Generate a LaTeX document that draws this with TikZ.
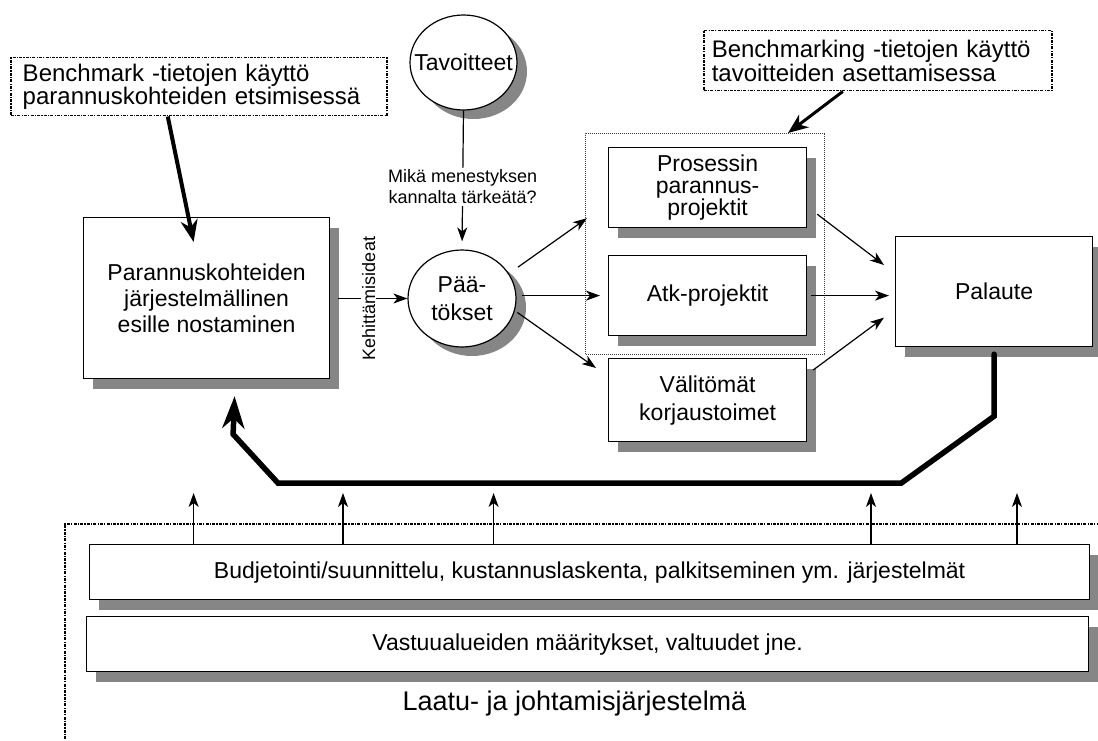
\documentclass[tikz,border=0pt]{standalone}
\usepackage{fontspec}
\setmainfont{Liberation Sans}
\usetikzlibrary{arrows.meta,shapes.geometric,shadows}
\definecolor{shgray}{RGB}{134,134,134}
\newcommand\fsz[2]{\fontsize{#1}{#2}\selectfont}
\tikzset{
  thinarrow/.style={line width=1.2pt, -{Stealth[length=14pt,width=10pt,inset=4pt]}},
  callarrow/.style={line width=4pt, -{Stealth[length=22pt,width=17pt,inset=7pt]}},
  callarrowb/.style={line width=3pt, -{Stealth[length=20pt,width=16pt,inset=6pt]}},
  fat/.style={line width=5.5pt, line cap=round, -{Stealth[length=32pt,width=22pt,inset=10pt]}},
  boxshadow/.style={drop shadow={shadow xshift=9pt, shadow yshift=-10pt, fill=shgray, opacity=1}},
  box/.style={draw, line width=1.2pt, fill=white, rectangle, inner sep=0pt,
    anchor=north west, align=center, boxshadow, font=\fsz{23}{26}},
  blob/.style={draw, line width=1.2pt, fill=white, ellipse, inner sep=0pt,
    drop shadow={shadow xshift=10pt, shadow yshift=-9pt, fill=shgray, opacity=1}},
  dashdot/.style={draw, line width=1.5pt, dash pattern=on 3pt off 1.2pt on 1.2pt off 1.2pt},
  callout/.style={dashdot, rectangle, anchor=north west, inner xsep=12pt, inner ysep=0pt,
    align=left, font=\fsz{24}{23.5}},
  grp/.style={draw=black!75, line width=1pt, densely dotted, rectangle, anchor=north west, inner sep=0pt},
}
\begin{document}
\begin{tikzpicture}[x=1pt,y=-1pt]
\useasboundingbox (0,0) rectangle (1098,741);
\fill[white] (0,0) rectangle (1098,741);
\clip (0,0) rectangle (1098,741);

% callouts
\node[callout, minimum width=376pt, minimum height=58pt, text width=352pt] (cb1) at (10,57)
  {Benchmark -tietojen käyttö\\parannuskohteiden etsimisessä};
\node[callout, minimum width=348pt, minimum height=60pt, text width=332pt, inner xsep=8pt] (cb2) at (703,30)
  {Benchmarking -tietojen käyttö\\tavoitteiden asettamisessa};

% outer frame of the management system
\node[dashdot, rectangle, anchor=north west, minimum width=1100pt, minimum height=300pt] (sys) at (64,523) {};

% dotted group of projects
\node[grp, minimum width=239pt, minimum height=221pt] (gr) at (585,133) {};

% main boxes
\node[box, minimum width=246pt, minimum height=161pt] (lb) at (83,217)
  {Parannuskohteiden\\järjestelmällinen\\esille nostaminen};
\node[box, minimum width=198pt, minimum height=80pt, font=\fsz{23}{22}] (pb) at (608,147)
  {Prosessin\\parannus-\\projektit};
\node[box, minimum width=198pt, minimum height=80pt] (ab) at (608,255) {Atk-projektit};
\node[box, minimum width=198pt, minimum height=83pt, font=\fsz{23}{28}] (vb) at (608,358)
  {Välitömät\\korjaustoimet};
\node[box, minimum width=197pt, minimum height=110pt] (pal) at (895,236) {Palaute};

% ellipses
\node[blob, minimum width=107pt, minimum height=95pt] (tav) at (463.5,62.5) {};
\node[font=\fsz{23}{26}, inner sep=0pt] (tavt) at (tav) {Tavoitteet};
\node[blob, minimum width=108pt, minimum height=97pt] (paat) at (462,298.5) {};
\node[font=\fsz{23}{28}, align=center, inner sep=0pt] (paatt) at (paat) {Pää-\\tökset};

% bottom boxes
\node[box, minimum width=1000pt, minimum height=55pt, font=\fsz{23}{26}] (bb) at (89,544)
  {Budjetointi/suunnittelu, kustannuslaskenta, palkitseminen ym. järjestelmät};
\node[box, minimum width=1002pt, minimum height=55pt, font=\fsz{23}{26}] (vtb) at (86,616)
  {Vastuualueiden määritykset, valtuudet jne.};
\node[font=\fsz{27}{30}, anchor=base] (laatu) at (574.5,710) {Laatu- ja johtamisjärjestelmä};

% callout pointers
\draw[callarrow] ([xshift=-31pt]cb1.south) -- ([xshift=-13pt,yshift=-25pt]lb.north);
\draw[callarrowb] ([xshift=-35pt]cb2.south) -- ([xshift=83pt]gr.north);

% flow connectors
\draw[thinarrow, shorten >=8pt] (tav.south) --
  node[pos=0.55, fill=white, font=\fsz{18}{21}, align=center, inner sep=2pt] (q)
  {Mikä menestyksen\\kannalta tärkeätä?} (paat.north);
\draw[thinarrow, shorten <=8pt] (lb.east |- paat.west) --
  node[fill=white, rotate=90, font=\fsz{18}{20}, inner sep=1pt] (ideas) {Kehittämisideat} (paat.west);
\draw[thinarrow, shorten <=11pt] (paat.28) -- ([xshift=-21pt,yshift=10pt]pb.south west);
\draw[thinarrow, shorten <=5pt, shorten >=8pt] (paat.east |- ab.west) -- (ab.west);
\draw[thinarrow, shorten <=3pt] (paat.-13) -- ([xshift=-12pt,yshift=-10pt]vb.north west);
\draw[thinarrow] ([xshift=10pt,yshift=14pt]pb.south east) -- ([xshift=-11pt,yshift=-29pt]pal.north west);
\draw[thinarrow, shorten <=4pt, shorten >=6pt] (ab.east) -- (ab.east -| pal.west);
\draw[thinarrow] ([xshift=6pt,yshift=-12pt]vb.north east) -- ([xshift=-11pt,yshift=-26pt]pal.west);

% feedback loop
\draw[fat] ([yshift=-7pt]pal.south) -- ++(0,62) -- ++(-93,67) -- ++(-623,0) -- ++(-45,-49)
  -- ([xshift=28pt,yshift=-17pt]lb.south);

% upward arrows from the systems layer
\foreach \dx in {104.6,254,404.6,782,928}
  \draw[thinarrow] ([xshift=\dx pt]bb.north west) -- ++(0,-51);
\end{tikzpicture}
\end{document}
